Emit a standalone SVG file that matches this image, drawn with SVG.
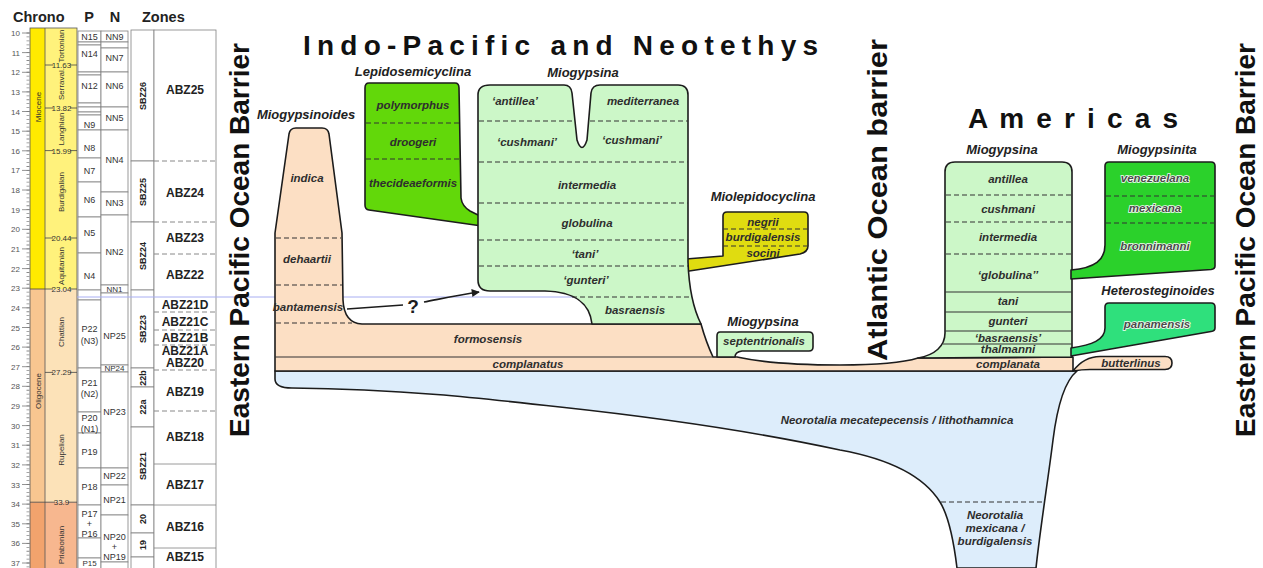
<svg xmlns="http://www.w3.org/2000/svg" width="1263" height="568" viewBox="0 0 1263 568">
<defs>
<style>
text{font-family:"Liberation Sans",Arial,sans-serif}
.hd{font-size:14.5px;font-weight:bold;fill:#222}
.age{font-size:8px;fill:#555;text-anchor:end}
.st{font-size:8px;fill:#333;text-anchor:middle}
.bd{font-size:8px;fill:#333;text-anchor:middle}
.cl{font-size:9px;fill:#333;text-anchor:middle}
.sbz{font-size:9px;font-weight:bold;fill:#222;text-anchor:middle}
.abz{font-size:12px;font-weight:bold;fill:#222;text-anchor:middle}
.cell{fill:#fff;stroke:#808080;stroke-width:0.8}
.ttl{font-size:28px;font-weight:bold;fill:#111}
.gn{font-size:13px;font-weight:bold;font-style:italic;fill:#222;text-anchor:middle}
.sp{font-size:11.5px;font-weight:bold;font-style:italic;fill:#2e2e2e;text-anchor:middle}
.sph{font-size:11.5px;font-weight:bold;font-style:italic;fill:#4a4a4a;stroke:#f4fff4;stroke-width:1.6;paint-order:stroke;text-anchor:middle}
.sh{stroke:#1c1c1c;stroke-width:1.6;stroke-linejoin:round}
.dash{stroke:#333;stroke-width:1.2;stroke-dasharray:5 3;fill:none}
.gdash{stroke:#888;stroke-width:1;stroke-dasharray:5 3;fill:none}
.solid{stroke:#333;stroke-width:1.2;fill:none}
.salmon{fill:#fcdfc4}
.lgreen{fill:#ccf7c8}
</style>
<marker id="ah" viewBox="0 0 10 10" refX="9" refY="5" markerWidth="11" markerHeight="8" markerUnits="userSpaceOnUse" orient="auto">
<path d="M0,0 L10,5 L0,10 Z" fill="#1c1c1c"/>
</marker>
</defs>

<rect width="1263" height="568" fill="#fff"/>

<!-- Chronostratigraphic chart -->
<g id="chrono-chart">
<text class="hd" x="13" y="22">Chrono</text>
<text class="hd" x="89" y="22" text-anchor="middle">P</text>
<text class="hd" x="115" y="22" text-anchor="middle">N</text>
<text class="hd" x="142" y="22">Zones</text>

<rect x="30" y="28" width="15" height="261" fill="#ffea00"/>
<rect x="30" y="289" width="15" height="213.2" fill="#f8c690"/>
<rect x="30" y="502.2" width="15" height="70" fill="#f2a36d"/>
<rect x="45" y="28" width="32" height="261" fill="#fff27c"/>
<rect x="45" y="289" width="32" height="213.2" fill="#fce2b8"/>
<rect x="45" y="502.2" width="32" height="70" fill="#f7b78f"/>
<rect x="30" y="28" width="47" height="544" fill="none" stroke="#555" stroke-width="0.8"/>
<line x1="45" y1="28" x2="45" y2="572" stroke="#555" stroke-width="0.8"/>

<path d="M30,289H53M70,289H77M30,502.2H55M68,502.2H77M45,65H53M70,65H77M45,108H53M70,108H77M45,150.6H53M70,150.6H77M45,238H53M70,238H77M45,372.4H53M70,372.4H77" stroke="#444" stroke-width="0.8" fill="none"/>
<text class="bd" x="61.5" y="68">11.63</text>
<text class="bd" x="61.5" y="111">13.82</text>
<text class="bd" x="61.5" y="153.6">15.99</text>
<text class="bd" x="61.5" y="241">20.44</text>
<text class="bd" x="61.5" y="292">23.04</text>
<text class="bd" x="61.5" y="375.4">27.29</text>
<text class="bd" x="61.5" y="505.2">33.9</text>

<text class="st" transform="translate(64,46) rotate(-90)">Tortonian</text>
<text class="st" transform="translate(64,84) rotate(-90)">Serraval.</text>
<text class="st" transform="translate(64,129) rotate(-90)">Langhian</text>
<text class="st" transform="translate(64,192) rotate(-90)">Burdigalian</text>
<text class="st" transform="translate(64,266) rotate(-90)">Aquitanian</text>
<text class="st" transform="translate(64,332) rotate(-90)">Chattian</text>
<text class="st" transform="translate(64,450) rotate(-90)">Rupelian</text>
<text class="st" transform="translate(64,545) rotate(-90)">Priabonian</text>
<text class="st" transform="translate(40.5,107) rotate(-90)">Miocene</text>
<text class="st" transform="translate(40.5,391) rotate(-90)">Oligocene</text>

<line x1="28" y1="32.6" x2="28" y2="568" stroke="#888" stroke-width="3" stroke-dasharray="0.8 3.126"/>
<path d="M22,33H30M22,52.6H30M22,72.3H30M22,91.9H30M22,111.5H30M22,131.2H30M22,150.8H30M22,170.4H30M22,190H30M22,209.7H30M22,229.3H30M22,248.9H30M22,268.6H30M22,288.2H30M22,307.8H30M22,327.5H30M22,347.1H30M22,366.7H30M22,386.3H30M22,406H30M22,425.6H30M22,445.2H30M22,464.9H30M22,484.5H30M22,504.1H30M22,523.8H30M22,543.4H30M22,563H30" stroke="#777" stroke-width="0.8" fill="none"/>
<g class="age">
<text x="20" y="36">10</text><text x="20" y="55.6">11</text><text x="20" y="75.3">12</text><text x="20" y="94.9">13</text><text x="20" y="114.5">14</text><text x="20" y="134.2">15</text><text x="20" y="153.8">16</text><text x="20" y="173.4">17</text><text x="20" y="193">18</text><text x="20" y="212.7">19</text><text x="20" y="232.3">20</text><text x="20" y="251.9">21</text><text x="20" y="271.6">22</text><text x="20" y="291.2">23</text><text x="20" y="310.8">24</text><text x="20" y="330.5">25</text><text x="20" y="350.1">26</text><text x="20" y="369.7">27</text><text x="20" y="389.3">28</text><text x="20" y="409">29</text><text x="20" y="428.6">30</text><text x="20" y="448.2">31</text><text x="20" y="467.9">32</text><text x="20" y="487.5">33</text><text x="20" y="507.1">34</text><text x="20" y="526.8">35</text><text x="20" y="546.4">36</text><text x="20" y="566">37</text>
</g>

<!-- P column -->
<g>
<rect class="cell" x="78" y="31" width="23" height="11"/>
<rect class="cell" x="78" y="42" width="23" height="3"/>
<rect class="cell" x="78" y="45" width="23" height="27"/>
<rect class="cell" x="78" y="72" width="23" height="3"/>
<rect class="cell" x="78" y="75" width="23" height="28"/>
<rect class="cell" x="78" y="103" width="23" height="4"/>
<rect class="cell" x="78" y="107" width="23" height="5"/>
<rect class="cell" x="78" y="112" width="23" height="3"/>
<rect class="cell" x="78" y="115" width="23" height="15"/>
<rect class="cell" x="78" y="130" width="23" height="28"/>
<rect class="cell" x="78" y="158" width="23" height="24"/>
<rect class="cell" x="78" y="182" width="23" height="35"/>
<rect class="cell" x="78" y="217" width="23" height="36"/>
<rect class="cell" x="78" y="253" width="23" height="37"/>
<rect class="cell" x="78" y="290" width="23" height="10"/>
<rect class="cell" x="78" y="300" width="23" height="68"/>
<rect class="cell" x="78" y="368" width="23" height="44"/>
<rect class="cell" x="78" y="412" width="23" height="21"/>
<rect class="cell" x="78" y="433" width="23" height="35"/>
<rect class="cell" x="78" y="468" width="23" height="37"/>
<rect class="cell" x="78" y="505" width="23" height="33"/>
<rect class="cell" x="78" y="538" width="23" height="20"/>
<rect class="cell" x="78" y="558" width="23" height="14"/>
</g>
<g class="cl">
<text x="89.5" y="40">N15</text>
<text x="89.5" y="57">N14</text>
<text x="89.5" y="89">N12</text>
<text x="89.5" y="128">N9</text>
<text x="89.5" y="151">N8</text>
<text x="89.5" y="174">N7</text>
<text x="89.5" y="203">N6</text>
<text x="89.5" y="236">N5</text>
<text x="89.5" y="279">N4</text>
<text x="89.5" y="332">P22</text>
<text x="89.5" y="344">(N3)</text>
<text x="89.5" y="386">P21</text>
<text x="89.5" y="397">(N2)</text>
<text x="89.5" y="421">P20</text>
<text x="89.5" y="432">(N1)</text>
<text x="89.5" y="455">P19</text>
<text x="89.5" y="490">P18</text>
<text x="89.5" y="517">P17</text>
<text x="89.5" y="527">+</text>
<text x="89.5" y="537">P16</text>
<text x="89.5" y="566" font-size="8">P15</text>
</g>

<!-- N column -->
<g>
<rect class="cell" x="101" y="31" width="27" height="11"/>
<rect class="cell" x="101" y="42" width="27" height="6"/>
<rect class="cell" x="101" y="48" width="27" height="24"/>
<rect class="cell" x="101" y="72" width="27" height="35"/>
<rect class="cell" x="101" y="107" width="27" height="23"/>
<rect class="cell" x="101" y="130" width="27" height="62"/>
<rect class="cell" x="101" y="192" width="27" height="23"/>
<rect class="cell" x="101" y="215" width="27" height="70"/>
<rect class="cell" x="101" y="285" width="27" height="8"/>
<rect class="cell" x="101" y="293" width="27" height="72"/>
<rect class="cell" x="101" y="365" width="27" height="7"/>
<rect class="cell" x="101" y="372" width="27" height="96"/>
<rect class="cell" x="101" y="468" width="27" height="17"/>
<rect class="cell" x="101" y="485" width="27" height="30"/>
<rect class="cell" x="101" y="515" width="27" height="47"/>
<rect class="cell" x="101" y="562" width="27" height="10"/>
</g>
<g class="cl">
<text x="114.5" y="40">NN9</text>
<text x="114.5" y="61">NN7</text>
<text x="114.5" y="89">NN6</text>
<text x="114.5" y="121">NN5</text>
<text x="114.5" y="163">NN4</text>
<text x="114.5" y="206">NN3</text>
<text x="114.5" y="255">NN2</text>
<text x="114.5" y="292" font-size="8">NN1</text>
<text x="114.5" y="339">NP25</text>
<text x="114.5" y="371" font-size="8">NP24</text>
<text x="114.5" y="415">NP23</text>
<text x="114.5" y="479">NP22</text>
<text x="114.5" y="503">NP21</text>
<text x="114.5" y="540">NP20</text>
<text x="114.5" y="550">+</text>
<text x="114.5" y="560">NP19</text>
</g>

<!-- SBZ column -->
<g>
<rect class="cell" x="131" y="30" width="23" height="131"/>
<rect class="cell" x="131" y="161" width="23" height="61"/>
<rect class="cell" x="131" y="222" width="23" height="68"/>
<rect class="cell" x="131" y="290" width="23" height="78"/>
<rect class="cell" x="131" y="368" width="23" height="19"/>
<rect class="cell" x="131" y="387" width="23" height="40"/>
<rect class="cell" x="131" y="427" width="23" height="78"/>
<rect class="cell" x="131" y="505" width="23" height="28"/>
<rect class="cell" x="131" y="533" width="23" height="24"/>
<rect class="cell" x="131" y="557" width="23" height="15"/>
</g>
<g class="sbz">
<text transform="translate(146,96) rotate(-90)">SBZ26</text>
<text transform="translate(146,192) rotate(-90)">SBZ25</text>
<text transform="translate(146,256) rotate(-90)">SBZ24</text>
<text transform="translate(146,329) rotate(-90)">SBZ23</text>
<text transform="translate(146,378) rotate(-90)">22b</text>
<text transform="translate(146,407) rotate(-90)">22a</text>
<text transform="translate(146,466) rotate(-90)">SBZ21</text>
<text transform="translate(146,519) rotate(-90)">20</text>
<text transform="translate(146,545) rotate(-90)">19</text>
</g>

<!-- ABZ column -->
<rect x="154" y="30" width="62" height="542" fill="#fff" stroke="#808080" stroke-width="0.8"/>
<path class="gdash" d="M154,161H216M154,222H216M154,254H216M154,312H216M154,330H216M154,345H216M154,370H216M154,411H216"/>
<path d="M154,464H216M154,505H216M154,548H216" stroke="#808080" stroke-width="0.8"/>
<g class="abz">
<text x="185" y="94">ABZ25</text>
<text x="185" y="197">ABZ24</text>
<text x="185" y="242">ABZ23</text>
<text x="185" y="279">ABZ22</text>
<text x="185" y="309">ABZ21D</text>
<text x="185" y="326">ABZ21C</text>
<text x="185" y="342">ABZ21B</text>
<text x="185" y="355">ABZ21A</text>
<text x="185" y="367">ABZ20</text>
<text x="185" y="396">ABZ19</text>
<text x="185" y="441">ABZ18</text>
<text x="185" y="489">ABZ17</text>
<text x="185" y="531">ABZ16</text>
<text x="185" y="561">ABZ15</text>
</g>
</g>

<!-- reference line at base Miocene -->
<line id="base-line" x1="77" y1="297" x2="592" y2="297" stroke="#a8aef2" stroke-width="1"/>

<!-- Titles -->
<g id="titles">
<text class="ttl" transform="translate(249,240) rotate(-90)" text-anchor="middle">Eastern Pacific Ocean Barrier</text>
<text class="ttl" x="303" y="55" font-size="27" textLength="515" lengthAdjust="spacing">Indo-Pacific and Neotethys</text>
<text class="ttl" transform="translate(887,200) rotate(-90)" text-anchor="middle" font-size="29" textLength="322" lengthAdjust="spacingAndGlyphs">Atlantic Ocean barrier</text>
<text class="ttl" x="968" y="128" font-size="29" textLength="210" lengthAdjust="spacing">A m e r i c a s</text>
<text class="ttl" transform="translate(1255,240) rotate(-90)" text-anchor="middle">Eastern Pacific Ocean Barrier</text>
</g>

<!-- Neorotalia (light blue) -->
<g id="node-neorotalia">
<path class="sh" fill="#ddedfb" d="M275,371 L1077,371 C1066,380 1058,400 1053,440 C1048,480 1040,530 1036,568 L957,568 C953,535 948,515 940,502 C925,478 895,460 840,450 C780,437 680,420 560,407 C480,398 400,389 292,388 Q275,388 275,379 Z"/>
<line class="dash" x1="941" y1="502" x2="1043" y2="502"/>
<text class="sp" x="897" y="424">Neorotalia mecatepecensis / lithothamnica</text>
<text class="sp" x="995" y="519">Neorotalia</text>
<text class="sp" x="995" y="532">mexicana /</text>
<text class="sp" x="995" y="545">burdigalensis</text>
</g>

<!-- Miogypsinoides + formosensis + complanatus (salmon) -->
<g id="node-miogypsinoides">
<path class="sh salmon" d="M296,128 L322,128 Q328,128 329,134 L342,233 L343,300 Q344,323 362,324 L701,324 Q706,342 713,357 L737,357 C760,362 800,365 840,365 C880,365 905,362 918,358 L1073,357 L1073,371 L275,371 L275,233 L289,134 Q290,128 296,128 Z"/>
<line class="solid" x1="275" y1="357" x2="713" y2="357"/>
<path class="dash" d="M276,238H341M276,285H342M276,323H352"/>
<text class="gn" x="306" y="119">Miogypsinoides</text>
<text class="sp" x="307" y="182">indica</text>
<text class="sp" x="307" y="263">dehaartii</text>
<text class="sp" x="308" y="311">bantamensis</text>
<text class="sp" x="488" y="343">formosensis</text>
<text class="sp" x="528" y="368">complanatus</text>
</g>

<!-- Lepidosemicyclina -->
<g id="node-lepidosemicyclina">
<path class="sh" fill="#62d80a" d="M369,83 L455,83 Q459,83 459,88 L461,198 Q462,206 470,211 L482,217 L482,226 L369,210 Q365,209.5 365,205 L365,88 Q365,83 369,83 Z"/>
<path class="dash" d="M366,123H459M366,159H460"/>
<text class="gn" x="413" y="76">Lepidosemicyclina</text>
<text class="sp" x="413" y="109">polymorphus</text>
<text class="sp" x="413" y="146">droogeri</text>
<text class="sp" x="413" y="187">thecideaeformis</text>
</g>

<!-- Miolepidocyclina -->
<g id="node-miolepidocyclina">
<path class="sh" fill="#e0dc10" d="M727,212 L804,212 Q808,212 808,216 L808,246 Q808,252 800,254 L686,271.5 L686,259 L723,256 L723,216 Q723,212 727,212 Z"/>
<path class="dash" d="M723,229H808M723,246H808"/>
<text class="gn" x="763" y="201">Miolepidocyclina</text>
<text class="sp" x="763" y="226">negrii</text>
<text class="sp" x="763" y="241">burdigalensis</text>
<text class="sp" x="763" y="257">socini</text>
</g>

<!-- Miogypsina Indo-Pacific -->
<g id="node-miogypsina-indopacific">
<path class="sh lgreen" d="M478,95 Q478,85 490,85 L564,85 Q571,85 572,93 L577,140 Q582,155 587,140 L591,93 Q592,85 600,85 L678,85 Q688,85 688,95 L688,262 C689,290 694,310 701,324 L592,324 C590,305 578,292 545,291 L490,291 Q478,291 478,280 Z"/>
<path class="dash" d="M479,121H574M590,121H688M479,162H688M479,203H688M479,240H688M479,266H688M572,297H690"/>
<text class="gn" x="583" y="77">Miogypsina</text>
<text class="sp" x="515" y="105">‘antillea’</text>
<text class="sp" x="643" y="105">mediterranea</text>
<text class="sp" x="527" y="146">‘cushmani’</text>
<text class="sp" x="632" y="144">‘cushmani’</text>
<text class="sp" x="587" y="189">intermedia</text>
<text class="sp" x="587" y="227">globulina</text>
<text class="sp" x="585" y="258">‘tani’</text>
<text class="sp" x="586" y="284">‘gunteri’</text>
<text class="sp" x="635" y="314">basraensis</text>
</g>

<!-- Miogypsina septentrionalis -->
<g id="node-miogypsina-septentrionalis">
<path class="sh lgreen" d="M720,332 L809,332 Q813,332 813,336 L813,347 Q813,351 809,351 L742,351 Q735,352 735,357 L717,357 L717,336 Q717,332 720,332 Z"/>
<text class="gn" x="763" y="326">Miogypsina</text>
<text class="sp" x="764" y="345">septentrionalis</text>
</g>

<!-- Miogypsina Americas -->
<g id="node-miogypsina-americas">
<path class="sh lgreen" d="M955,162 L1062,162 Q1072,162 1072,172 L1072,357 L918,358 C935,355 945,346 945,333 L945,172 Q945,162 955,162 Z"/>
<path class="dash" d="M946,195H1072M946,222H1072M946,254H1072"/>
<path class="solid" d="M945,292H1072M945,312H1072M945,331H1072M943,344H1072"/>
<text class="gn" x="1002" y="154">Miogypsina</text>
<text class="sp" x="1008" y="183">antillea</text>
<text class="sp" x="1008" y="213">cushmani</text>
<text class="sp" x="1008" y="241">intermedia</text>
<text class="sp" x="1008" y="279">‘globulina’’</text>
<text class="sp" x="1008" y="305">tani</text>
<text class="sp" x="1008" y="325">gunteri</text>
<text class="sp" x="1008" y="342" font-size="10.5">‘basraensis’</text>
<text class="sp" x="1008" y="353" font-size="10.5">thalmanni</text>
<text class="sp" x="1008" y="368">complanata</text>
</g>

<!-- Miogypsinita -->
<g id="node-miogypsinita">
<path class="sh" fill="#2bd12b" d="M1109,162 L1211,162 Q1215,162 1215,166 L1215,266 Q1215,269 1211,269.5 L1071,279 L1071,270 C1095,268 1105,260 1105,245 L1105,166 Q1105,162 1109,162 Z"/>
<path class="dash" d="M1106,196H1215M1106,223H1215"/>
<text class="gn" x="1157" y="154">Miogypsinita</text>
<text class="sph" x="1155" y="182">venezuelana</text>
<text class="sph" x="1155" y="212">mexicana</text>
<text class="sph" x="1155" y="250">bronnimanni</text>
</g>

<!-- Heterosteginoides -->
<g id="node-heterosteginoides">
<path class="sh" fill="#2fe07c" d="M1109,303 L1211,303 Q1215,303 1215,307 L1215,328 Q1215,331 1211,331.5 L1071,356 L1071,348 C1092,345 1105,340 1105,328 L1105,307 Q1105,303 1109,303 Z"/>
<text class="gn" x="1158" y="295">Heterosteginoides</text>
<text class="sph" x="1157" y="328">panamensis</text>
</g>

<!-- butterlinus -->
<g id="node-butterlinus">
<path class="sh salmon" d="M1073,371 C1080,362 1088,356.5 1100,356.5 L1165,356.5 Q1172,356.5 1172,363 Q1172,369.5 1165,369.5 L1090,369.5 Q1082,369.5 1073,371 Z"/>
<text class="sp" x="1131" y="367">butterlinus</text>
</g>

<!-- connectors -->
<g id="connectors">
<path d="M347,309 L403,305" stroke="#1c1c1c" stroke-width="1.6" fill="none"/>
<path d="M424,302 C440,299 458,295 479,292" stroke="#1c1c1c" stroke-width="1.6" fill="none" marker-end="url(#ah)"/>
<text x="413" y="313" font-size="19" font-weight="bold" fill="#1c1c1c" text-anchor="middle">?</text>
</g>
</svg>
